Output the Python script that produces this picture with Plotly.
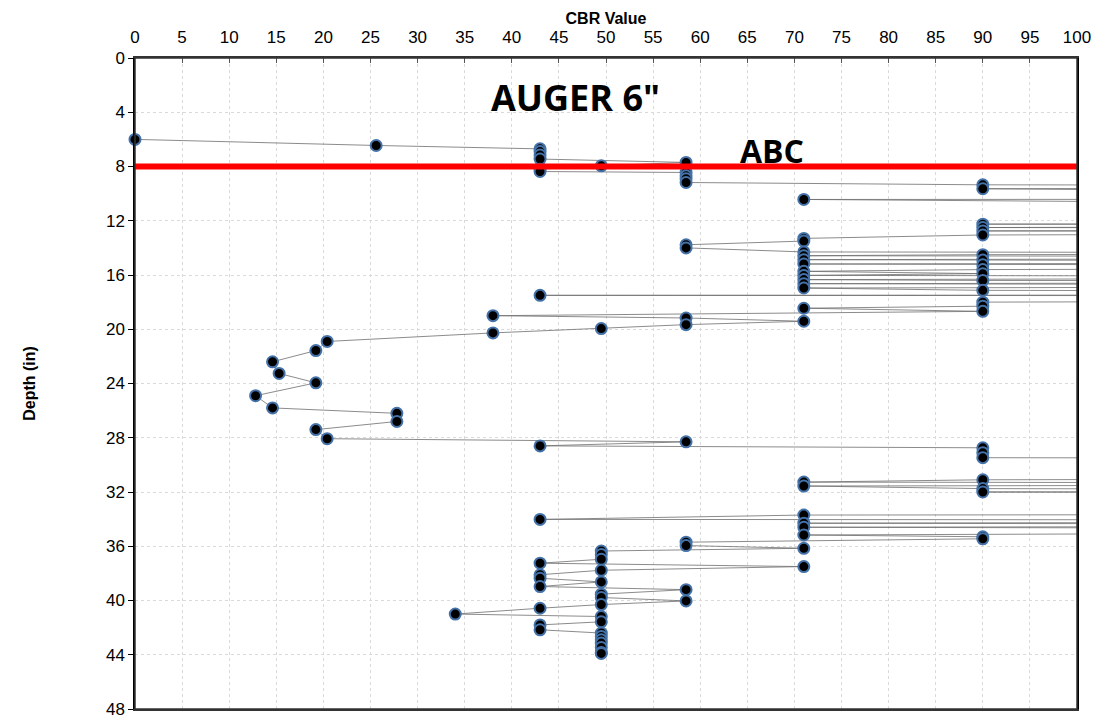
import plotly.graph_objects as go

# DCP profile: CBR value (x) vs depth (inches, y). Values > 100 fall off the chart's right edge.
depth_in = [
    6.0, 6.45, 6.7, 6.9, 7.15, 7.45, 7.7, 7.95, 8.2, 8.37, 8.44, 8.69, 8.9, 9.18,
    9.35, 9.45, 9.64, 10.4, 10.43, 10.5, 11.3, 12.1, 12.25, 12.35, 12.5, 12.6, 12.75,
    12.85, 13.05, 13.3, 13.5, 13.77, 14.0, 14.3, 14.4, 14.5, 14.58, 14.7, 14.87, 14.9,
    15.05, 15.19, 15.24, 15.4, 15.6, 15.73, 15.9, 16.03, 16.15, 16.34, 16.4, 16.5,
    16.64, 16.8, 16.96, 17.13, 17.3, 17.45, 17.5, 17.55, 17.8, 18.0, 18.3, 18.45,
    18.68, 19.0, 19.17, 19.41, 19.66, 19.95, 20.27, 20.9, 21.57, 22.4, 23.26, 23.95,
    24.9, 25.8, 26.2, 26.8, 27.4, 28.07, 28.3, 28.6, 28.74, 29.1, 29.47, 29.6, 30.3,
    30.9, 31.1, 31.27, 31.4, 31.56, 31.75, 31.9, 32.0, 32.1, 33.0, 33.6, 33.7, 34.02,
    34.1, 34.3, 34.45, 34.6, 34.8, 35.17, 35.3, 35.45, 35.7, 35.95, 36.15, 36.35,
    36.6, 36.96, 37.25, 37.5, 37.77, 38.1, 38.36, 38.63, 38.97, 39.2, 39.53, 39.78,
    40.03, 40.3, 40.57, 41.0, 41.18, 41.57, 41.8, 42.16, 42.4, 42.65, 42.9, 43.14,
    43.46, 43.83, 43.9,
]
cbr_value = [
    0, 25.6, 43, 43, 43, 43, 58.5, 49.5, 43, 43, 58.5, 58.5, 58.5, 58.5,
    90, 210, 90, 230, 71, 220, 250, 230, 90, 200, 90, 220, 90,
    200, 90, 71, 71, 58.5, 58.5, 71, 200, 90, 71, 210, 71, 90,
    200, 71, 90, 220, 90, 71, 90, 71, 200, 71, 90, 210,
    71, 200, 71, 90, 220, 230, 43, 230, 200, 90, 90, 71,
    90, 38, 58.5, 71, 58.5, 49.5, 38, 20.4, 19.2, 14.6, 15.3, 19.2,
    12.8, 14.6, 27.8, 27.8, 19.2, 20.4, 58.5, 43, 90, 90, 90, 220, 250,
    230, 90, 71, 210, 71, 90, 220, 90, 210, 250, 230, 71, 43,
    230, 71, 210, 71, 220, 71, 90, 90, 58.5, 58.5, 71, 49.5,
    49.5, 49.5, 43, 71, 49.5, 43, 43, 49.5, 43, 58.5, 49.5, 49.5,
    58.5, 49.5, 43, 34, 49.5, 49.5, 43, 43, 49.5, 49.5, 49.5, 49.5,
    49.5, 49.5, 49.5,
]

# Layer boundary (ABC base) line
layer_line_x = [0, 100]
layer_line_depth = [8, 8]

x_ticks = list(range(0, 101, 5))
y_ticks = list(range(0, 49, 4))

FONT = "Liberation Sans, Arial, sans-serif"

fig = go.Figure()
fig.add_trace(go.Scatter(
    x=cbr_value, y=depth_in, mode="lines+markers",
    line=dict(color="rgba(110,110,110,0.8)", width=1),
    marker=dict(size=11, color="black", line=dict(color="#4472a8", width=2)),
    cliponaxis=False, showlegend=False,
))
fig.add_trace(go.Scatter(
    x=layer_line_x, y=layer_line_depth, mode="lines",
    line=dict(color="#ff0000", width=6), showlegend=False,
))

fig.add_annotation(x=46.8, y=2.9, text="<b>AUGER 6\"</b>", showarrow=False,
                   font=dict(family="Open Sans, Liberation Sans, sans-serif", size=36, color="black"))
fig.add_annotation(x=67.6, y=6.85, text="<b>ABC</b>", showarrow=False,
                   font=dict(family="Open Sans, Liberation Sans, sans-serif", size=32, color="black"))

# plot-area frame
fig.add_shape(type="rect", xref="paper", yref="paper", x0=0, y0=0, x1=1, y1=1,
              line=dict(color="#333", width=1.5), layer="above")

fig.update_layout(
    width=1099, height=719, autosize=False,
    margin=dict(l=135, r=22, t=58, b=10, autoexpand=False),
    paper_bgcolor="white", plot_bgcolor="white",
    font=dict(family=FONT, size=17, color="black"),
    xaxis=dict(
        side="top", range=[0, 100], tickvals=x_ticks, ticks="inside", ticklen=5,
        tickcolor="#555", showline=True, linecolor="#333", linewidth=1.5, mirror=True,
        showgrid=True, gridcolor="#dadada", griddash="3px,3px", gridwidth=1,
        zeroline=False, ticklabelstandoff=6, automargin=False,
        title=dict(text="<b>CBR Value</b>", font=dict(size=16), standoff=0),
    ),
    yaxis=dict(
        range=[48, 0], tickvals=y_ticks, ticks="outside", ticklen=5,
        tickcolor="black", showline=True, linecolor="black", linewidth=1.5, mirror=True,
        showgrid=True, gridcolor="#dadada", griddash="3px,3px", gridwidth=1,
        zeroline=False, automargin=False, ticklabeloverflow="allow",
        title=dict(text="<b>Depth (in)</b>", font=dict(size=16), standoff=66),
    ),
)

fig.write_html("out.html")
